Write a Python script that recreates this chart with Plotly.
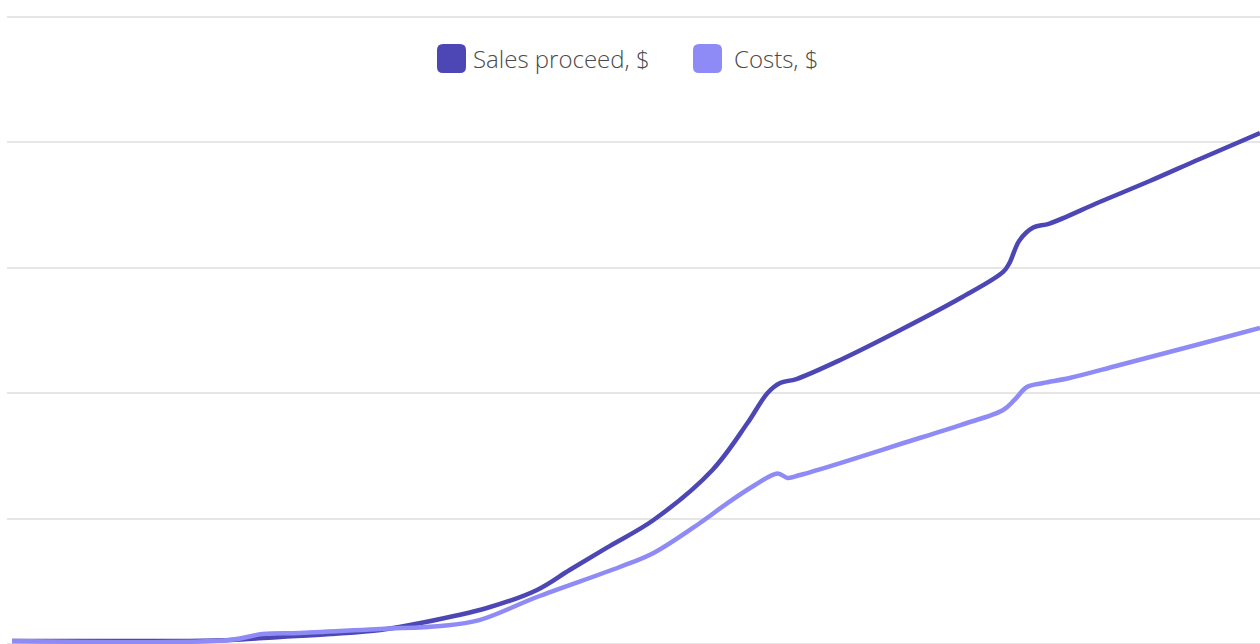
import plotly.graph_objects as go

# Data (x on a 0-100 time scale, y in value units 0-500)
sales_x = [0.4, 7.4, 13.8, 17.8, 21.8, 25.8, 29.8, 33.0, 38.3, 42.3, 44.9, 48.1, 51.6, 56.3,
           59.1, 60.7, 61.7, 63.0, 66.5, 71.3, 76.1, 79.5, 80.0, 80.8, 81.9, 83.2,
           87.2, 91.2, 95.2, 100.0]
sales_y = [2.4, 2.4, 2.4, 3.2, 5.6, 8.0, 11.2, 16.7, 28.7, 43.1, 59.0, 78.1, 98.9, 138.8,
           176.2, 200.2, 208.1, 211.3, 226.5, 250.4, 275.9, 296.7, 303.8, 321.8, 332.1, 335.3,
           352.5, 369.2, 386.8, 407.5]

costs_x = [0.4, 17.8, 20.4, 23.4, 29.8, 34.6, 37.7, 42.3, 48.9, 51.6, 55.3, 57.5, 59.7,
           61.5, 62.3, 63.3, 66.5, 71.3, 76.1, 79.5, 80.4, 81.4, 82.7, 84.8, 88.8,
           95.2, 100.0]
costs_y = [2.4, 3.2, 8.0, 8.8, 12.0, 14.4, 19.1, 37.5, 61.4, 72.6, 96.5, 112.4, 126.8,
           136.0, 132.4, 134.8, 144.3, 159.5, 174.6, 186.6, 194.6, 204.9, 208.1, 212.1, 222.5,
           239.2, 252.0]

series_names = ["Sales proceed, $", "Costs, $"]
series_colors = ["#4c47b4", "#8f8bf6"]

W, H = 1260, 644
ML, MR, MT, MB = 7, 0, 10, 0
Y_TOP = 505.6  # headroom so the top gridline (500) is drawn ~17px from the top

fig = go.Figure()
fig.add_trace(go.Scatter(x=sales_x, y=sales_y, mode="lines", name=series_names[0],
                         line=dict(color=series_colors[0], width=4.5, shape="spline", smoothing=1),
                         showlegend=False))
fig.add_trace(go.Scatter(x=costs_x, y=costs_y, mode="lines", name=series_names[1],
                         line=dict(color=series_colors[1], width=4.5, shape="spline", smoothing=1),
                         showlegend=False))


def rounded_square(size, r):
    h = size / 2
    return (f"M {-h + r},{-h} L {h - r},{-h} Q {h},{-h} {h},{-h + r} "
            f"L {h},{h - r} Q {h},{h} {h - r},{h} L {-h + r},{h} Q {-h},{h} {-h},{h - r} "
            f"L {-h},{-h + r} Q {-h},{-h} {-h + r},{-h} Z")


pw = W - ML - MR
ph = H - MT - MB


def px_to_paper_x(px):
    return (px - ML) / pw


def px_to_paper_y(py):
    return (H - MB - py) / ph


legend_y = 58.5
items = [(451.5, 471), (707.5, 732)]
shapes = []
annotations = []
for (cx, tx), name, col in zip(items, series_names, series_colors):
    shapes.append(dict(type="path", xref="paper", yref="paper",
                       xsizemode="pixel", ysizemode="pixel",
                       xanchor=px_to_paper_x(cx), yanchor=px_to_paper_y(legend_y),
                       path=rounded_square(29, 6), fillcolor=col, line=dict(width=0),
                       layer="above"))
    annotations.append(dict(x=px_to_paper_x(tx), y=px_to_paper_y(legend_y), xref="paper", yref="paper",
                            text=name, showarrow=False, xanchor="left", yanchor="middle",
                            font=dict(family="Open Sans", size=24, color="#4a4a4a", weight=300)))

fig.update_layout(
    width=W, height=H,
    margin=dict(l=ML, r=MR, t=MT, b=MB),
    paper_bgcolor="white", plot_bgcolor="white",
    xaxis=dict(range=[0, 100], showgrid=False, zeroline=False, showticklabels=False,
               showline=False, ticks=""),
    yaxis=dict(range=[0, Y_TOP], dtick=100, showgrid=True, gridcolor="#e6e6e6", gridwidth=2,
               zeroline=True, zerolinecolor="#e6e6e6", zerolinewidth=2,
               showticklabels=False, showline=False, ticks=""),
    shapes=shapes,
    annotations=annotations,
    showlegend=False,
)

fig.write_html("out.html")
